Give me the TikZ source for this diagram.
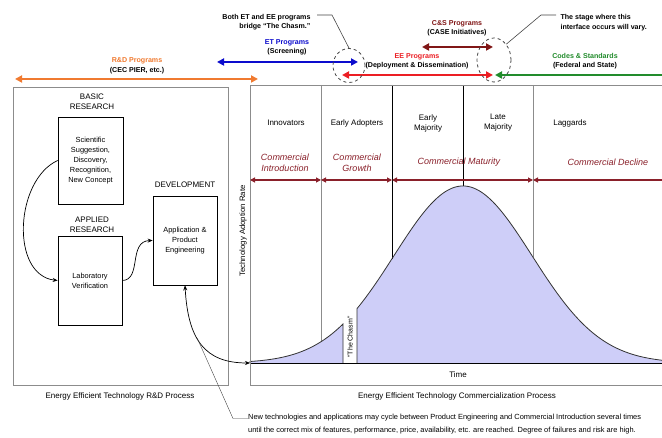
\documentclass[tikz,border=0pt]{standalone}
\usepackage{fontspec}
\setmainfont{Liberation Sans}
\usetikzlibrary{arrows.meta,calc,shapes.geometric}

\definecolor{rdorange}{RGB}{240,122,48}
\definecolor{etblue}{RGB}{12,12,205}
\definecolor{csdark}{RGB}{128,22,22}
\definecolor{eered}{RGB}{236,30,36}
\definecolor{csgreen}{RGB}{34,140,44}
\definecolor{phasered}{RGB}{138,32,42}
\definecolor{bellfill}{RGB}{206,206,248}
\definecolor{framegray}{RGB}{140,140,140}
\definecolor{leadergray}{RGB}{70,70,70}

\tikzset{
  frame/.style={draw=framegray, line width=1.1pt},
  stagebox/.style={draw=black, line width=0.7pt, inner sep=0pt, align=center,
    font=\fontsize{7.4}{10}\selectfont},
  boxtitle/.style={align=center, font=\fontsize{8}{10.5}\selectfont},
  collabel/.style={align=center, font=\fontsize{8}{10}\selectfont},
  phaselabel/.style={align=center, text=phasered, font=\itshape\fontsize{9}{11}\selectfont},
  proglabel/.style={align=center, font=\bfseries\fontsize{7.1}{9.5}\selectfont},
  progarrow/.style={line width=2.2pt, {Triangle[length=7pt,width=7pt]}-{Triangle[length=7pt,width=7pt]}},
  phasearrow/.style={draw=phasered, line width=1.1pt,
    {Triangle[length=5pt,width=5pt]}-{Triangle[length=5pt,width=5pt]}},
  flow/.style={line width=0.7pt, -{Stealth[length=5pt,width=4pt]}},
  chasmring/.style={draw=leadergray, dashed, line width=0.8pt},
  leader/.style={draw=leadergray, line width=0.6pt},
  caption/.style={font=\fontsize{8}{10}\selectfont},
}

\begin{document}
\begin{tikzpicture}[x=1pt,y=-1pt]
\useasboundingbox (0,0) rectangle (662,438);
\fill[white] (0,0) rectangle (662,438);
\clip (0,0) rectangle (662,438);

% ---------------- R&D process ----------------
\node[frame, minimum width=215pt, minimum height=298pt, anchor=north west] (rdframe) at (13,87) {};
\node[boxtitle] (basict) at (92,101.5) {BASIC\\RESEARCH};
\node[stagebox, minimum width=65pt, minimum height=87pt] (basic) at (90.5,160.5)
  {Scientific\\Suggestion,\\Discovery,\\Recognition,\\New Concept};
\node[boxtitle] (appliedt) at (92,225) {APPLIED\\RESEARCH};
\node[stagebox, minimum width=64pt, minimum height=89pt] (applied) at (90,280.5)
  {Laboratory\\Verification};
\node[boxtitle] (devt) at (185,185) {DEVELOPMENT};
\node[stagebox, minimum width=64pt, minimum height=89pt] (dev) at (185,240.5)
  {Application \&\\Product\\Engineering};
\node[caption] (rdcap) at (120,396) {Energy Efficient Technology R\&D Process};

\draw[flow] (basic.west) .. controls (15,180) and (10,275) .. (applied.west);
\draw[flow] (applied.east) .. controls (142,280) and (128,241) .. (dev.west);

% ---------------- Commercialization process ----------------
\coordinate (origin) at (250,363);
\coordinate (axisend) at (664,363);

% bell curve with the chasm gap
\fill[bellfill] (250,363) -- plot[domain=250:343, samples=60]
  (\x,{363-177*exp(-0.5*((\x-463)/69)^2)}) -- (343,363) -- cycle;
\fill[bellfill] (357,363) -- plot[domain=357:664, samples=150]
  (\x,{363-177*exp(-0.5*((\x-463)/69)^2)}) -- (664,363) -- cycle;

% column dividers
\draw[framegray, line width=1pt] (321,85) -- (321,{363-177*exp(-0.5*((321-463)/69)^2)});
\draw[framegray, line width=1pt] (533,85) -- (533,{363-177*exp(-0.5*((533-463)/69)^2)});
\draw[black, line width=0.9pt] (392,85) -- (392,{363-177*exp(-0.5*((392-463)/69)^2)});
\draw[black, line width=0.6pt] (463,85) -- (463,186);

\draw[line width=0.8pt, draw=black!80] (250,363) -- plot[domain=250:343, samples=60]
  (\x,{363-177*exp(-0.5*((\x-463)/69)^2)}) -- (343,363);
\draw[line width=0.8pt, draw=black!80] (357,363) -- plot[domain=357:664, samples=150]
  (\x,{363-177*exp(-0.5*((\x-463)/69)^2)});
\draw[line width=0.9pt] (origin) -- (axisend);

\node[frame, minimum width=420pt, minimum height=300pt, anchor=north west] (comframe) at (250,85) {};
\node[font=\fontsize{7}{8}\selectfont, rotate=90] (chasm) at (350,337) {“The Chasm”};
\node[font=\fontsize{7.8}{9}\selectfont, rotate=90] (ylabel) at (243,231) {Technology Adoption Rate};
\node[collabel] (timelab) at (458,375) {Time};
\node[caption] (comcap) at (457,396) {Energy Efficient Technology Commercialization Process};

% adopter groups
\node[collabel] (innov) at (286,123) {Innovators};
\node[collabel] (early) at (357,123) {Early Adopters};
\node[collabel] (emaj) at (428,123) {Early\\Majority};
\node[collabel] (lmaj) at (498,123) {Late\\Majority};
\node[collabel] (lagg) at (570,123) {Laggards};

% commercial phases
\node[phaselabel] (intro) at (285,162.5) {Commercial\\Introduction};
\node[phaselabel] (growth) at (357,162.5) {Commercial\\Growth};
\node[phaselabel] (mature) at (459,162) {Commercial Maturity};
\node[phaselabel] (decline) at (608,162) {Commercial Decline};

\coordinate (p0) at (250,180);
\coordinate (p1) at (321,180);
\coordinate (p2) at (392,180);
\coordinate (p3) at (533,180);
\coordinate (p4) at (672,180);
\draw[phasearrow] (p0) -- (p1);
\draw[phasearrow] (p1) -- (p2);
\draw[phasearrow] (p2) -- (p3);
\draw[phasearrow] (p3) -- (p4);

% cycle between engineering and introduction
\draw[line width=0.7pt, {Stealth[length=5pt,width=4pt]}-{Stealth[length=5pt,width=4pt]}]
  (dev.south) .. controls (188,340) and (205,363) .. node[pos=0.42, coordinate] (cyclept) {} (origin);

\node[anchor=north west, align=left, font=\fontsize{7.45}{13}\selectfont, inner sep=0pt] (note) at (248,413.5)
  {New technologies and applications may cycle between Product Engineering and Commercial Introduction several times\\
   until the correct mix of features, performance, price, availability, etc. are reached. Degree of failures and risk are high.};
\coordinate (notebend) at (233,418.5);
\draw[leader, line width=0.4pt] (note.north west |- notebend) -- (notebend) -- (cyclept);

% ---------------- program arrows ----------------
\coordinate (rdL) at (15,79);   \coordinate (rdR) at (258,79);
\coordinate (etL) at (217,62);  \coordinate (etR) at (358,62);
\coordinate (csL) at (422,47);  \coordinate (csR) at (493,47);
\coordinate (eeL) at (342,75);  \coordinate (eeR) at (493,75);
\coordinate (cdL) at (495,75);  \coordinate (cdR) at (670,75);

\draw[progarrow, draw=rdorange, fill=rdorange] (rdL) -- (rdR);
\draw[progarrow, draw=etblue, fill=etblue] (etL) -- (etR);
\draw[progarrow, draw=csdark, fill=csdark] (csL) -- (csR);
\draw[progarrow, draw=eered, fill=eered] (eeL) -- (eeR);
\draw[line width=2.2pt, draw=csgreen, {Triangle[length=7pt,width=7pt]}-] (cdL) -- (cdR);

\node[proglabel] (rdlab) at (137,66) {\textcolor{rdorange}{R\&D Programs}\\(CEC PIER, etc.)};
\node[proglabel] (etlab) at (287,47.5) {\textcolor{etblue}{ET Programs}\\(Screening)};
\node[proglabel] (cslab) at (457,28.5) {\textcolor{csdark}{C\&S Programs}\\(CASE Initiatives)};
\node[proglabel] (eelab) at (417,61.5) {\textcolor{eered}{EE Programs}\\(Deployment \& Dissemination)};
\node[proglabel] (cdlab) at (585,61) {\textcolor{csgreen}{Codes \& Standards}\\(Federal and State)};

% chasm interfaces
\node[chasmring, ellipse, minimum width=32pt, minimum height=34pt, inner sep=0pt] (ring1) at (349,65.5) {};
\node[chasmring, ellipse, minimum width=34pt, minimum height=44pt, inner sep=0pt] (ring2) at (494,60) {};

\node[proglabel, align=right, anchor=east] (bothlab) at (314,22) {Both ET and EE programs\\bridge “The Chasm.”};
\node[proglabel, align=left, anchor=west] (stagelab) at (557,22.5) {The stage where this\\interface occurs will vary.};

\coordinate (bend1) at (332,15);
\coordinate (bend2) at (541,15);
\draw[leader] (317,15) -- (bend1) -- (ring1.north);
\draw[leader] (556,15) -- (bend2) -- (ring2.north east);
\end{tikzpicture}
\end{document}
